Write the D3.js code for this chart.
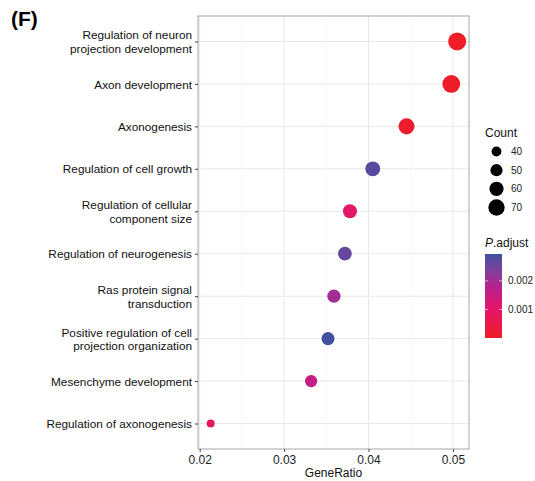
<!DOCTYPE html>
<html lang="en">
<head>
<meta charset="UTF-8">
<title>GO enrichment dot plot</title>
<script src="https://d3js.org/d3.v7.min.js"></script>
<style>
  body { margin: 0; background: #fff; }
  svg text { font-family: "Liberation Sans", Arial, Helvetica, sans-serif; }
</style>
</head>
<body>
<svg id="chart" width="535" height="481"></svg>
<script>
    // terms, top to bottom
    const terms = [
        "Regulation of neuron\nprojection development",
        "Axon development",
        "Axonogenesis",
        "Regulation of cell growth",
        "Regulation of cellular\ncomponent size",
        "Regulation of neurogenesis",
        "Ras protein signal\ntransduction",
        "Positive regulation of cell\nprojection organization",
        "Mesenchyme development",
        "Regulation of axonogenesis"
    ];
    const geneRatio = [0.0505, 0.0498, 0.0445, 0.0405, 0.0378, 0.0372, 0.0359, 0.0352, 0.0332, 0.0213];
    const counts = [72, 71, 63, 58, 54, 53, 51, 50, 47, 30];
    const pAdjust = [0.00002, 0.00004, 0.00008, 0.0027, 0.0010, 0.0026, 0.0020, 0.0029, 0.0016, 0.0008];

    const xTicks = [0.02, 0.03, 0.04, 0.05];
    const xMinor = [0.025, 0.035, 0.045];
    const countBreaks = [40, 50, 60, 70];
    const pBreaks = [0.001, 0.002];

    // colour ramp of the printed figure (red -> magenta -> blue)
    const rampStops = [0, 0.35, 0.6, 0.8, 1];
    const rampColors = ["#ee1d27", "#e3166a", "#b8208e", "#80409a", "#3f51a3"];

    const svg = d3.select("#chart");
    const panel = { left: 198, right: 469, top: 16, bottom: 449 };
    const pMax = 0.00294;

    const x = d3.scaleLinear().domain([0.0198, 0.0519]).range([panel.left, panel.right]);
    const y = d3.scalePoint().domain(terms).range([panel.top, panel.bottom]).padding(0.6);
    const r = d3.scalePow().exponent(0.75).domain([30, 72]).range([4, 9]);
    const color = d3.scaleLinear().domain(rampStops.map(t => t * pMax)).range(rampColors);

    // title letter
    svg.append("text").attr("x", 11).attr("y", 26)
        .attr("font-size", 21).attr("font-weight", "bold").text("(F)");

    // grid
    const grid = svg.append("g");
    grid.selectAll(".minor").data(xMinor).enter().append("line")
        .attr("x1", d => x(d)).attr("x2", d => x(d))
        .attr("y1", panel.top).attr("y2", panel.bottom)
        .attr("stroke", "#f3f3f3").attr("stroke-width", 0.6);
    grid.selectAll(".major").data(xTicks).enter().append("line")
        .attr("x1", d => x(d)).attr("x2", d => x(d))
        .attr("y1", panel.top).attr("y2", panel.bottom)
        .attr("stroke", "#e8e8e8").attr("stroke-width", 1);
    grid.selectAll(".hy").data(terms).enter().append("line")
        .attr("x1", panel.left).attr("x2", panel.right)
        .attr("y1", d => y(d)).attr("y2", d => y(d))
        .attr("stroke", "#e8e8e8").attr("stroke-width", 1);

    // points
    const data = terms.map((t, i) => ({ term: t, ratio: geneRatio[i], count: counts[i], p: pAdjust[i] }));
    svg.append("g").selectAll("circle").data(data).enter().append("circle")
        .attr("cx", d => x(d.ratio)).attr("cy", d => y(d.term))
        .attr("r", d => r(d.count))
        .attr("fill", d => color(d.p));

    // panel border
    svg.append("rect").attr("x", panel.left).attr("y", panel.top)
        .attr("width", panel.right - panel.left).attr("height", panel.bottom - panel.top)
        .attr("fill", "none").attr("stroke", "#a6a6a6").attr("stroke-width", 1);

    // x axis
    const xAxis = svg.append("g").attr("transform", `translate(0,${panel.bottom})`)
        .call(d3.axisBottom(x).tickValues(xTicks).tickSize(3).tickPadding(3).tickFormat(d3.format(".2f")));
    xAxis.select(".domain").remove();
    xAxis.selectAll("line").attr("stroke", "#444");
    xAxis.selectAll("text").attr("font-size", 12).attr("fill", "#222");

    svg.append("text").attr("x", (panel.left + panel.right) / 2).attr("y", 477)
        .attr("text-anchor", "middle").attr("font-size", 12).attr("fill", "#111").text("GeneRatio");

    // y axis
    const yAxis = svg.append("g").attr("transform", `translate(${panel.left},0)`)
        .call(d3.axisLeft(y).tickSize(3).tickPadding(4).tickFormat(""));
    yAxis.select(".domain").remove();
    yAxis.selectAll("line").attr("stroke", "#444");
    yAxis.selectAll(".tick").each(function (d) {
        const lines = d.split("\n");
        const t = d3.select(this).append("text")
            .attr("x", -6).attr("text-anchor", "end")
            .attr("font-size", 11.8).attr("fill", "#111");
        lines.forEach((ln, j) => {
            t.append("tspan").attr("x", -6)
                .attr("y", (j - (lines.length - 1) / 2) * 13.5)
                .attr("dy", "0.35em").text(ln);
        });
    });

    // size legend
    const lg = svg.append("g");
    lg.append("text").attr("x", 485).attr("y", 137).attr("font-size", 12).attr("fill", "#111").text("Count");
    const legY = d3.scalePoint().domain(countBreaks).range([151.5, 207.5]);
    countBreaks.forEach(c => {
        lg.append("circle").attr("cx", 496.5).attr("cy", legY(c))
            .attr("r", r(c) * 0.93).attr("fill", "#000");
        lg.append("text").attr("x", 511).attr("y", legY(c)).attr("dy", "0.35em")
            .attr("font-size", 10).attr("fill", "#222").text(c);
    });

    // colour bar
    const cb = { x: 485, w: 17, top: 254, bottom: 338 };
    const cy = d3.scaleLinear().domain([0, pMax]).range([cb.bottom, cb.top]);
    const title = lg.append("text").attr("x", 485).attr("y", 247).attr("font-size", 12).attr("fill", "#111");
    title.append("tspan").attr("font-style", "italic").text("P");
    title.append("tspan").text(".adjust");

    const defs = svg.append("defs");
    const grad = defs.append("linearGradient").attr("id", "pgrad")
        .attr("x1", 0).attr("y1", 1).attr("x2", 0).attr("y2", 0);
    d3.range(0, 1.0001, 0.05).forEach(t => {
        grad.append("stop").attr("offset", t)
            .attr("stop-color", color(t * pMax));
    });
    lg.append("rect").attr("x", cb.x).attr("y", cb.top).attr("width", cb.w)
        .attr("height", cb.bottom - cb.top).attr("fill", "url(#pgrad)");
    pBreaks.forEach(p => {
        lg.append("line").attr("x1", cb.x).attr("x2", cb.x + 3)
            .attr("y1", cy(p)).attr("y2", cy(p)).attr("stroke", "#fff").attr("stroke-opacity", 0.6);
        lg.append("line").attr("x1", cb.x + cb.w - 3).attr("x2", cb.x + cb.w)
            .attr("y1", cy(p)).attr("y2", cy(p)).attr("stroke", "#fff").attr("stroke-opacity", 0.6);
        lg.append("text").attr("x", 508).attr("y", cy(p)).attr("dy", "0.35em")
            .attr("font-size", 10).attr("fill", "#222").text(p.toFixed(3));
    });
</script>
</body>
</html>
